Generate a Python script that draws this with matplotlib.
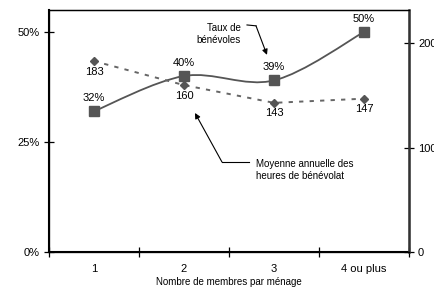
import matplotlib.pyplot as plt
import numpy as np
from matplotlib.path import Path
from matplotlib.patches import PathPatch

plt.rcParams['font.family'] = ['Liberation Sans', 'DejaVu Sans']

categories = ['1', '2', '3', '4 ou plus']
taux = [0.32, 0.40, 0.39, 0.50]
taux_labels = ['32%', '40%', '39%', '50%']
heures = [183, 160, 143, 147]
heures_labels = ['183', '160', '143', '147']


def smooth_path(xs, ys):
    # Excel-like smoothed line: cubic bezier segments (Catmull-Rom, 1/6 tension)
    pts = np.column_stack([xs, ys]).astype(float)
    ext = np.vstack([pts[0], pts, pts[-1]])
    verts = [pts[0]]
    codes = [Path.MOVETO]
    for i in range(len(pts) - 1):
        p0, p1, p2, p3 = ext[i], ext[i + 1], ext[i + 2], ext[i + 3]
        c1 = p1 + (p2 - p0) / 6.0
        c2 = p2 - (p3 - p1) / 6.0
        verts += [c1, c2, p2]
        codes += [Path.CURVE4] * 3
    return Path(verts, codes)


fig = plt.figure(figsize=(4.34, 2.90), dpi=100)
ax = fig.add_axes([49 / 434, 38 / 290, 360 / 434, 242 / 290])
ax2 = ax.twinx()

x = np.arange(len(categories))

# left axis : taux de benevoles
ax.add_patch(PathPatch(smooth_path(x, taux), fill=False, edgecolor='#555555', lw=1.3, zorder=3))
ax.plot(x, taux, ls='none', marker='s', ms=7.2, color='#555555', zorder=4)
for xi, yi, lab in zip(x, taux, taux_labels):
    ax.annotate(lab, (xi, yi), xytext=(0, 6), textcoords='offset points',
                ha='center', va='bottom', fontsize=8)

ax.set_xlim(-0.5, 3.5)
ax.set_ylim(0, 0.55)
ax.set_yticks([0, 0.25, 0.5])
ax.set_yticklabels(['0%', '25%', '50%'], fontsize=8)
ax.set_xticks(np.arange(-0.5, 4, 1))
ax.set_xticklabels([])
ax.set_xticks(x, minor=True)
ax.set_xticklabels(categories, minor=True, fontsize=8)
ax.tick_params(axis='x', which='major', direction='inout', length=7, width=0.9)
ax.tick_params(axis='x', which='minor', length=0, pad=9)
ax.tick_params(axis='y', direction='inout', length=7, width=0.9, pad=3)
ax.set_xlabel('Nombre de membres par ménage', fontsize=7, labelpad=2)

# right axis : heures
ax2.plot(x, heures, ls=(0, (2.2, 3.2)), lw=1.4, color='#666666', marker='D', ms=4.5,
         mfc='#555555', mec='#555555', zorder=3)
for xi, yi, lab in zip(x, heures, heures_labels):
    ax2.annotate(lab, (xi, yi), xytext=(0, -4), textcoords='offset points',
                 ha='center', va='top', fontsize=8)
ax2.set_ylim(0, 232)
ax2.set_yticks([0, 100, 200])
ax2.set_yticklabels(['0', '100', '200'], fontsize=8)
ax2.tick_params(axis='y', direction='inout', length=7, width=0.9, pad=3)

for a in (ax, ax2):
    for s in a.spines.values():
        s.set_linewidth(0.9)
ax.spines['left'].set_linewidth(1.5)
ax.spines['bottom'].set_linewidth(1.5)
ax2.spines['right'].set_linewidth(1.8)
ax2.spines['right'].set_color('#333333')

# annotations
ax.text(1.633, 0.495, 'Taux de\nbénévoles', ha='right', va='center', fontsize=7,
        multialignment='right', linespacing=1.3)
ax.plot([1.70, 1.80], [0.516, 0.514], color='black', lw=0.8)
ax.annotate('', xy=(1.922, 0.448), xytext=(1.80, 0.514),
            arrowprops=dict(arrowstyle='-|>', color='black', lw=0.8,
                            mutation_scale=8, shrinkA=0, shrinkB=0))

ax.text(1.80, 0.186, 'Moyenne annuelle des\nheures de bénévolat', ha='left', va='center',
        fontsize=7, linespacing=1.3)
ax.plot([1.722, 1.422], [0.2045, 0.2045], color='black', lw=0.8)
ax.annotate('', xy=(1.122, 0.316), xytext=(1.422, 0.2045),
            arrowprops=dict(arrowstyle='-|>', color='black', lw=0.8,
                            mutation_scale=8, shrinkA=0, shrinkB=0))

fig.savefig('out.png', dpi=100)
